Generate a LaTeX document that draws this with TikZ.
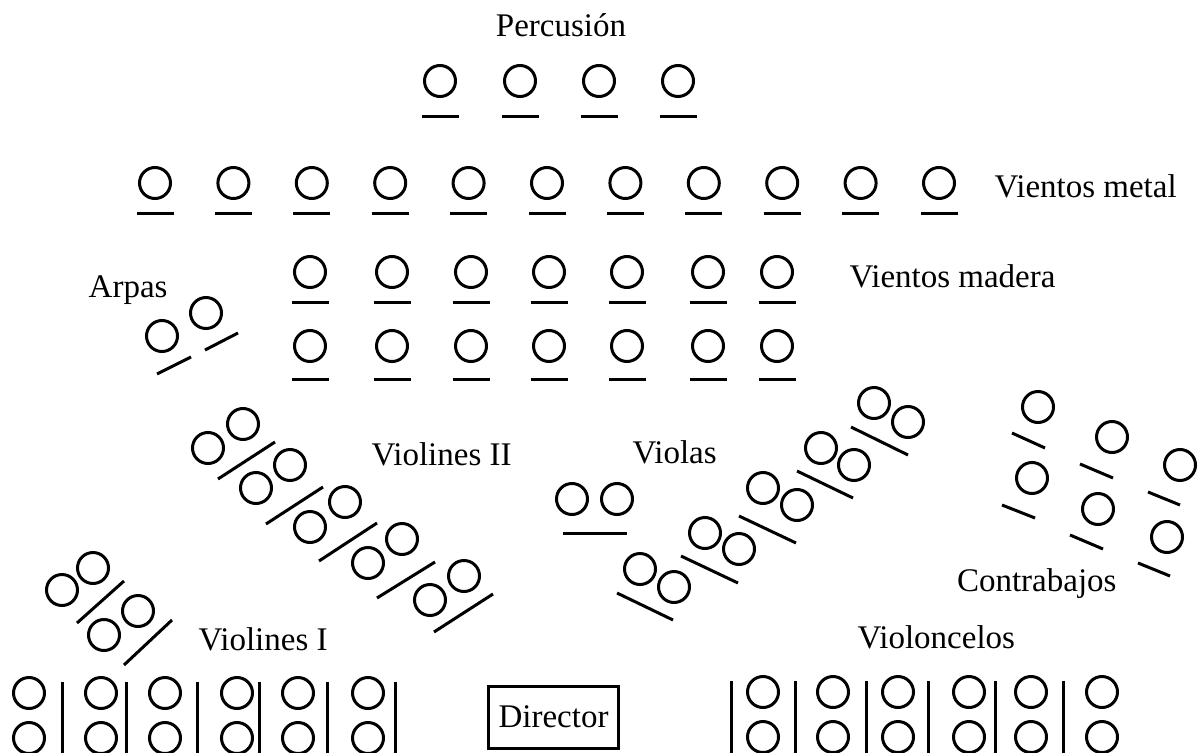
\documentclass[tikz,border=0pt]{standalone}
\usepackage{fontspec}
\setmainfont{Liberation Serif}
\begin{document}
\begin{tikzpicture}[x=1pt,y=-1pt,line width=3pt,
  lab/.style={font=\fontsize{33}{39}\selectfont,inner sep=0pt}]
\useasboundingbox (0,0) rectangle (1204,752);
\clip (0,0) rectangle (1204,752);
% Percusion
\foreach \x in {440,520,599,678} {
  \draw (\x,81) circle[radius=15.5pt];
  \draw (\x-18.5,116) -- (\x+18.5,116);
}
% Vientos metal
\foreach \i in {0,...,10} {
  \pgfmathsetmacro\x{155+78.4*\i}
  \draw (\x,183) circle[radius=15.5pt];
  \draw (\x-18.5,213.5) -- (\x+18.5,213.5);
}
% Vientos madera
\foreach \x in {310,392,471,549,627,708,777} {
  \draw (\x,272) circle[radius=15.5pt];
  \draw (\x-18.5,302) -- (\x+18.5,302);
  \draw (\x,346) circle[radius=15.5pt];
  \draw (\x-18.5,379) -- (\x+18.5,379);
}
% Arpas
\foreach \a/\b in {162/336,206/313} \draw (\a,\b) circle[radius=15.5pt];
\foreach \a/\b/\c/\d in {157/374/191/357,205/350/238/333} \draw (\a,\b) -- (\c,\d);
% Violines II
\foreach \a/\b in {243/424,208/448,290/465,256/488,345/502,310/527,402/539,368/563,464/576,430/600}
  \draw (\a,\b) circle[radius=15.5pt];
\foreach \a/\b/\c/\d in {218/479/275/442,266/524/323/487,319/561/377/523,377/598/435/562,434/632/493/594}
  \draw (\a,\b) -- (\c,\d);
% Violines I (diagonal)
\foreach \a/\b in {93/568,62/590,138/611,104/635} \draw (\a,\b) circle[radius=15.5pt];
\foreach \a/\b/\c/\d in {77/623/124/581,124/665/172/620} \draw (\a,\b) -- (\c,\d);
% Violines I (front)
\foreach \x in {29,101,165,237,298,368} {
  \draw (\x,693) circle[radius=15.5pt];
  \draw (\x,738) circle[radius=15.5pt];
}
\foreach \x in {62,126,197,259,327,395} \draw (\x,682) -- (\x,760);
% Violoncelos
\foreach \x in {763,833,898,969,1031,1102} {
  \draw (\x,692) circle[radius=15.5pt];
  \draw (\x,737) circle[radius=15.5pt];
}
\foreach \x in {731,795,866,928,995,1063} \draw (\x,681) -- (\x,760);
% Violas
\foreach \a/\b in {572/499,617/499,640/569,674/587,705/533,739/549,763/488,797/505,821/448,854/465,874/403,908/422}
  \draw (\a,\b) circle[radius=15.5pt];
\foreach \a/\b/\c/\d in {563/533/627/533,617/593/673/620,681/556/738/583,739/516/796/543,797/471/853/498,851/427/908/455}
  \draw (\a,\b) -- (\c,\d);
% Contrabajos
\foreach \a/\b in {1038/407,1032/478,1112/437,1098/509,1180/465,1167/537}
  \draw (\a,\b) circle[radius=15.5pt];
\foreach \a/\b/\c/\d in {1012/433/1045/448,1002/505/1035/518,1080/464/1113/478,1070/535/1103/549,1148/492/1180/505,1138/563/1170/576}
  \draw (\a,\b) -- (\c,\d);
% Labels
\node[lab,anchor=base] (perc) at (561,37) {Percusión};
\node[lab,anchor=base west] (metal) at (993,197) {Vientos metal};
\node[lab,anchor=base west] (madera) at (848,287) {Vientos madera};
\node[lab,anchor=base east] (arpas) at (169,297) {Arpas};
\node[lab,anchor=base west] (v2) at (370,465) {Violines II};
\node[lab,anchor=base west] (v1) at (197,650) {Violines I};
\node[lab,anchor=base west] (vla) at (631,463) {Violas};
\node[lab,anchor=base east] (cb) at (1118,591) {Contrabajos};
\node[lab,anchor=base west] (vc) at (856,648) {Violoncelos};
\node[lab,draw,line width=3pt,minimum width=130pt,minimum height=62pt] (dir) at (553.5,717) {Director};
\end{tikzpicture}
\end{document}
